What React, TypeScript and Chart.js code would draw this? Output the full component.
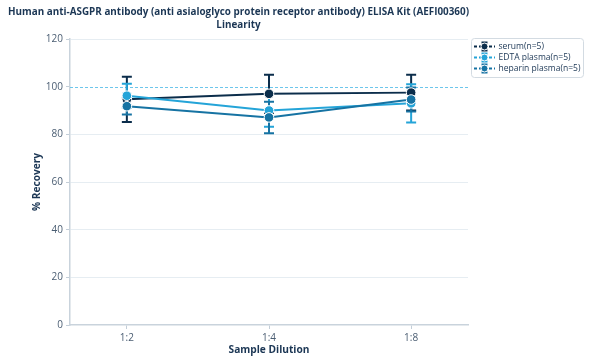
import React, { useEffect, useRef } from "react";
import { Chart, registerables } from "chart.js";

Chart.register(...registerables);

const categories = ["1:2", "1:4", "1:8"];
const seriesNames = ["serum(n=5)", "EDTA plasma(n=5)", "heparin plasma(n=5)"];
const seriesColors = ["#0b2d4b", "#24a4d8", "#1673a3"];
const serumMean = [94.7, 97.0, 97.5];
const serumErr = [9.5, 8.0, 7.5];
const edtaMean = [96.2, 90.0, 93.0];
const edtaErr = [5.0, 6.8, 8.0];
const heparinMean = [91.8, 87.1, 94.6];
const heparinErr = [3.5, 6.6, 5.0];
const yTicks = [0, 20, 40, 60, 80, 100, 120];
const titleLines = [
  "Human anti-ASGPR antibody (anti asialoglyco protein receptor antibody) ELISA Kit (AEFI00360)",
  "Linearity",
];
const xTitle = "Sample Dilution";
const yTitle = "% Recovery";
const refValue = 100;

const means = [serumMean, edtaMean, heparinMean];
const errs = [serumErr, edtaErr, heparinErr];

const FONT = "'Open Sans', 'Noto Sans', sans-serif";

function fitFont(ctx: CanvasRenderingContext2D, text: string, weight: string, target: number) {
  ctx.font = `${weight} 12px ${FONT}`;
  const w = ctx.measureText(text).width;
  const size = (12 * target) / w;
  return `${weight} ${size.toFixed(2)}px ${FONT}`;
}

export default function App() {
  const ref = useRef<HTMLCanvasElement | null>(null);
  useEffect(() => {
    const canvas = ref.current;
    if (!canvas) return;

    const overlay = {
      id: "overlay",
      beforeDatasetsDraw(chart: any) {
        const ctx = chart.ctx;
        const xs = chart.scales.x;
        const ys = chart.scales.y;
        const area = chart.chartArea;
        ctx.save();
        ctx.strokeStyle = "#6cc6ec";
        ctx.lineWidth = 1;
        ctx.setLineDash([3, 2]);
        const ry = Math.round(ys.getPixelForValue(refValue)) + 0.5;
        ctx.beginPath();
        ctx.moveTo(area.left, ry);
        ctx.lineTo(area.right, ry);
        ctx.stroke();
        ctx.restore();
        ctx.save();
        ctx.lineWidth = 2;
        for (let s = 0; s < means.length; s++) {
          ctx.strokeStyle = seriesColors[s];
          for (let i = 0; i < categories.length; i++) {
            const px = xs.getPixelForValue(i);
            const top = ys.getPixelForValue(means[s][i] + errs[s][i]);
            const bot = ys.getPixelForValue(means[s][i] - errs[s][i]);
            ctx.beginPath();
            ctx.moveTo(px, top);
            ctx.lineTo(px, bot);
            ctx.moveTo(px - 5, top);
            ctx.lineTo(px + 5, top);
            ctx.moveTo(px - 5, bot);
            ctx.lineTo(px + 5, bot);
            ctx.stroke();
          }
        }
        ctx.restore();
      },
      afterDraw(chart: any) {
        const ctx = chart.ctx;
        const area = chart.chartArea;
        ctx.save();
        ctx.fillStyle = "#1b3654";
        ctx.textAlign = "center";
        ctx.textBaseline = "middle";
        ctx.font = fitFont(ctx, titleLines[0], "bold", 461);
        ctx.fillText(titleLines[0], 238.5, 12);
        ctx.fillText(titleLines[1], 238.5, 25);
        ctx.font = fitFont(ctx, xTitle, "bold", 81);
        ctx.fillText(xTitle, (area.left + area.right) / 2, 350);
        ctx.save();
        ctx.translate(37, (area.top + area.bottom) / 2);
        ctx.rotate(-Math.PI / 2);
        ctx.font = fitFont(ctx, yTitle, "bold", 58);
        ctx.fillText(yTitle, 0, 0);
        ctx.restore();
        // legend
        const bx = 471.5, by = 38.5, bw = 112, bh = 39;
        ctx.fillStyle = "#ffffff";
        ctx.strokeStyle = "#d3dbe2";
        ctx.lineWidth = 1;
        ctx.beginPath();
        (ctx as any).roundRect(bx, by, bw, bh, 3);
        ctx.fill();
        ctx.stroke();
        const rows = [46.5, 57.5, 68.5];
        ctx.font = fitFont(ctx, seriesNames[2], "normal", 82);
        ctx.textAlign = "left";
        for (let s = 0; s < seriesNames.length; s++) {
          const y = rows[s];
          const c = seriesColors[s];
          ctx.strokeStyle = c;
          ctx.lineWidth = 2;
          ctx.setLineDash([3, 2]);
          ctx.beginPath();
          ctx.moveTo(474, y);
          ctx.lineTo(495, y);
          ctx.stroke();
          ctx.setLineDash([]);
          ctx.beginPath();
          ctx.moveTo(484.5, y - 4);
          ctx.lineTo(484.5, y + 4);
          ctx.moveTo(481.5, y - 4);
          ctx.lineTo(487.5, y - 4);
          ctx.moveTo(481.5, y + 4);
          ctx.lineTo(487.5, y + 4);
          ctx.stroke();
          ctx.fillStyle = c;
          ctx.strokeStyle = "#ffffff";
          ctx.lineWidth = 1;
          ctx.beginPath();
          ctx.arc(484.5, y, 3.5, 0, Math.PI * 2);
          ctx.fill();
          ctx.stroke();
          ctx.fillStyle = "#1b3654";
          ctx.fillText(seriesNames[s], 498.5, y);
        }
        ctx.restore();
      },
    };

    const chart = new Chart(canvas, {
      type: "line",
      data: {
        datasets: means.map((m, s) => ({
          label: seriesNames[s],
          data: m.map((v, i) => ({ x: i, y: v })),
          borderColor: seriesColors[s],
          backgroundColor: seriesColors[s],
          pointBackgroundColor: seriesColors[s],
          pointBorderColor: "#ffffff",
          pointBorderWidth: 1,
          pointRadius: 4.8,
          borderWidth: 2,
          order: 3 - s,
        })),
      },
      options: {
        animation: false,
        responsive: false,
        maintainAspectRatio: false,
        layout: { padding: { top: 39, right: 122, bottom: 0, left: 0 } },
        plugins: {
          legend: { display: false },
          title: { display: false },
          tooltip: { enabled: false },
        },
        scales: {
          x: {
            type: "linear",
            min: -0.4,
            max: 2.4,
            afterBuildTicks: (s: any) => {
              s.ticks = categories.map((_, i) => ({ value: i }));
            },
            afterFit: (s: any) => {
              s.height = 37;
            },
            ticks: {
              callback: (v: any) => categories[Math.round(Number(v))] ?? "",
              color: "#4a5d72",
              font: { family: FONT, size: 10 },
              padding: 3,
              maxRotation: 0,
            },
            grid: {
              drawOnChartArea: false,
              drawTicks: true,
              tickLength: 4,
              tickColor: "#c3ced8",
            },
            border: { color: "#c9d3dc", width: 1.5 },
          },
          y: {
            min: 0,
            max: 120,
            afterBuildTicks: (s: any) => {
              s.ticks = yTicks.map((v) => ({ value: v }));
            },
            afterFit: (s: any) => {
              s.width = 70;
            },
            ticks: {
              color: "#4a5d72",
              font: { family: FONT, size: 10 },
              padding: 3,
            },
            grid: {
              color: (c: any) =>
                c.tick && (c.tick.value === 0 || c.tick.value === refValue) ? "rgba(0,0,0,0)" : "#e6edf2",
              tickLength: 4,
              tickColor: "#c3ced8",
            },
            border: { color: "#c9d3dc", width: 1.5 },
          },
        },
      },
      plugins: [overlay],
    } as any);
    return () => chart.destroy();
  }, []);

  return (
    <div style={{ position: "fixed", left: 0, top: 0, width: 590, height: 362, background: "#fff" }}>
      <canvas ref={ref} width={590} height={362} style={{ width: 590, height: 362 }} />
    </div>
  );
}
